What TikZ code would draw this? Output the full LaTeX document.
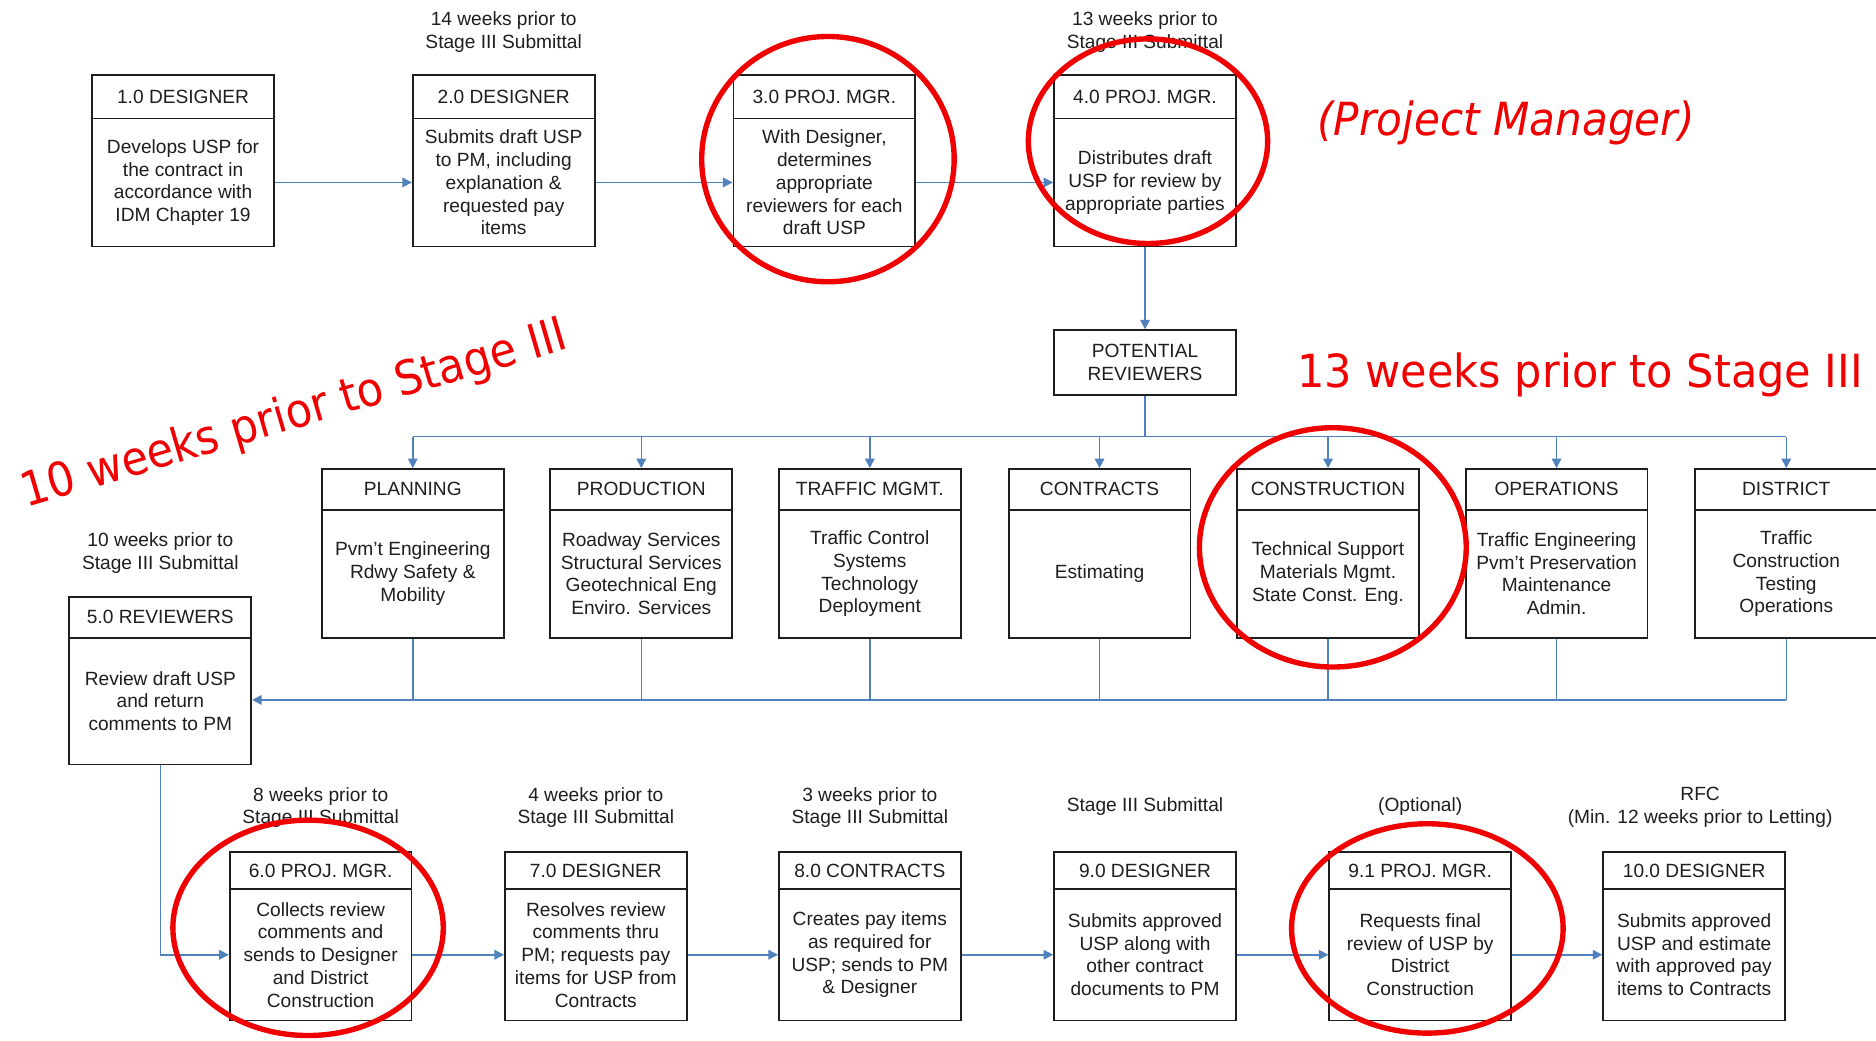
\documentclass[tikz,border=0pt]{standalone}
\usepackage{graphicx}
\usepackage{fontspec}
\setmainfont{Liberation Sans}
\newfontfamily\annofont{DejaVu Sans}
\usetikzlibrary{arrows.meta,shapes.geometric}
\definecolor{flowblue}{RGB}{79,129,189}
\definecolor{inkgray}{RGB}{30,30,30}
\definecolor{markred}{RGB}{240,0,0}
\newcommand\procbox[7]{%
  \node[boxo, minimum height={(#5)-(#3)}] (#1) at (#2,{((#3)+(#5))/2}) {};
  \draw[inkgray, line width=1.5pt] ({#2-76},#4) -- ({#2+76},#4);
  \node[lbl] (#1h) at (#2,{((#3)+(#4))/2}) {#6};
  \node[lbl] (#1t) at (#2,{((#4)+(#5))/2}) {#7};
}
\begin{document}
\begin{tikzpicture}[x=1pt,y=-1pt,
  boxo/.style={draw=inkgray, line width=1.5pt, minimum width=152pt, inner sep=0pt, fill=white},
  lbl/.style={font=\fontsize{16}{19}\selectfont, text=inkgray, align=center, inner sep=0pt},
  flow/.style={draw=flowblue, line width=1.3pt, -{Triangle[width=8pt,length=8pt]}},
  bus/.style={draw=flowblue, line width=1.3pt},
  ring/.style={ellipse, draw=markred, line width=4.5pt, inner sep=0pt},
  redtxt/.style={anchor=base west, inner sep=0pt, text=markred}]
\useasboundingbox (0,0) rectangle (1568,870);
\fill[white] (0,0) rectangle (1568,870);

% top row
\procbox{b1}{153}{63}{99}{206}{1.0 DESIGNER}{Develops USP for\\the contract in\\accordance with\\IDM Chapter 19}
\procbox{b2}{421}{63}{99}{206}{2.0 DESIGNER}{Submits draft USP\\to PM, including\\explanation \&\\requested pay\\items}
\procbox{b3}{689}{63}{99}{206}{3.0 PROJ. MGR.}{With Designer,\\determines\\appropriate\\reviewers for each\\draft USP}
\procbox{b4}{957}{63}{99}{206}{4.0 PROJ. MGR.}{Distributes draft\\USP for review by\\appropriate parties}
\node[lbl] (n2) at (421,27) {14 weeks prior to\\Stage III Submittal};
\node[lbl] (n4) at (957,27) {13 weeks prior to\\Stage III Submittal};

\node[boxo, lbl, minimum height=54pt] (pr) at (957,303) {POTENTIAL\\REVIEWERS};

% reviewers
\procbox{r1}{345}{392}{426}{533}{PLANNING}{Pvm't Engineering\\Rdwy Safety \&\\Mobility}
\procbox{r2}{536}{392}{426}{533}{PRODUCTION}{Roadway Services\\Structural Services\\Geotechnical Eng\\Enviro. Services}
\procbox{r3}{727}{392}{426}{533}{TRAFFIC MGMT.}{Traffic Control\\Systems\\Technology\\Deployment}
\procbox{r4}{919}{392}{426}{533}{CONTRACTS}{Estimating}
\procbox{r5}{1110}{392}{426}{533}{CONSTRUCTION}{Technical Support\\Materials Mgmt.\\State Const. Eng.}
\procbox{r6}{1301}{392}{426}{533}{OPERATIONS}{Traffic Engineering\\Pvm't Preservation\\Maintenance\\Admin.}
\procbox{r7}{1493}{392}{426}{533}{DISTRICT}{Traffic\\Construction\\Testing\\Operations}

\procbox{rv}{134}{499}{533}{639}{5.0 REVIEWERS}{Review draft USP\\and return\\comments to PM}
\node[lbl] (n5) at (134,462) {10 weeks prior to\\Stage III Submittal};

% bottom row
\procbox{p6}{268}{712}{743}{853}{6.0 PROJ. MGR.}{Collects review\\comments and\\sends to Designer\\and District\\Construction}
\procbox{p7}{498}{712}{743}{853}{7.0 DESIGNER}{Resolves review\\comments thru\\PM; requests pay\\items for USP from\\Contracts}
\procbox{p8}{727}{712}{743}{853}{8.0 CONTRACTS}{Creates pay items\\as required for\\USP; sends to PM\\\& Designer}
\procbox{p9}{957}{712}{743}{853}{9.0 DESIGNER}{Submits approved\\USP along with\\other contract\\documents to PM}
\procbox{p91}{1187}{712}{743}{853}{9.1 PROJ. MGR.}{Requests final\\review of USP by\\District\\Construction}
\procbox{p10}{1416}{712}{743}{853}{10.0 DESIGNER}{Submits approved\\USP and estimate\\with approved pay\\items to Contracts}
\node[lbl] (n6) at (268,675) {8 weeks prior to\\Stage III Submittal};
\node[lbl] (n7) at (498,675) {4 weeks prior to\\Stage III Submittal};
\node[lbl] (n8) at (727,675) {3 weeks prior to\\Stage III Submittal};
\node[lbl] (n9) at (957,674) {Stage III Submittal};
\node[lbl] (n91) at (1187,674) {(Optional)};
\node[lbl] (n10) at (1421,675) {RFC\\(Min. 12 weeks prior to Letting)};

% connectors
\draw[flow] (b1t -| b1.east) -- (b2t -| b2.west);
\draw[flow] (b2t -| b2.east) -- (b3t -| b3.west);
\draw[flow] (b3t -| b3.east) -- (b4t -| b4.west);
\draw[flow] (b4) -- (pr);
\coordinate (busA) at (957,365);
\coordinate (busB) at (957,585);
\draw[bus] (pr) -- (busA);
\draw[bus] (r1.north |- busA) -- (r7.north |- busA);
\foreach \r in {r1,r2,r3,r4,r5,r6,r7}{
  \draw[flow] (\r.north |- busA) -- (\r);
  \draw[bus] (\r) -- (\r.south |- busB);
}
\draw[flow] (r7.south |- busB) -- (rv.east |- busB);
\draw[flow] (rv) -- (rv.south |- p6t) -- (p6t -| p6.west);
\draw[flow] (p6t -| p6.east) -- (p7t -| p7.west);
\draw[flow] (p7t -| p7.east) -- (p8t -| p8.west);
\draw[flow] (p8t -| p8.east) -- (p9t -| p9.west);
\draw[flow] (p9t -| p9.east) -- (p91t -| p91.west);
\draw[flow] (p91t -| p91.east) -- (p10t -| p10.west);

% red annotations
\node[ring, minimum width=211pt, minimum height=205pt] (e3) at (692,133) {};
\node[ring, minimum width=200pt, minimum height=171pt] (e4) at (959.5,118) {};
\node[ring, minimum width=223pt, minimum height=200pt] (e5) at (1114,457.5) {};
\node[ring, minimum width=226pt, minimum height=180pt] (e6) at (257.5,775.5) {};
\node[ring, minimum width=227pt, minimum height=175pt] (e91) at (1193,776) {};

\node[redtxt] (tpm) at (1101,113) {\resizebox{315pt}{29pt}{\annofont\itshape (Project Manager)}};
\node[redtxt] (t13) at (1084,324) {\resizebox{473pt}{29pt}{\annofont 13 weeks prior to Stage III}};
\node[redtxt, rotate=16.3] (t10) at (22,424) {\resizebox{473pt}{30pt}{\annofont 10 weeks prior to Stage III}};
\end{tikzpicture}
\end{document}
